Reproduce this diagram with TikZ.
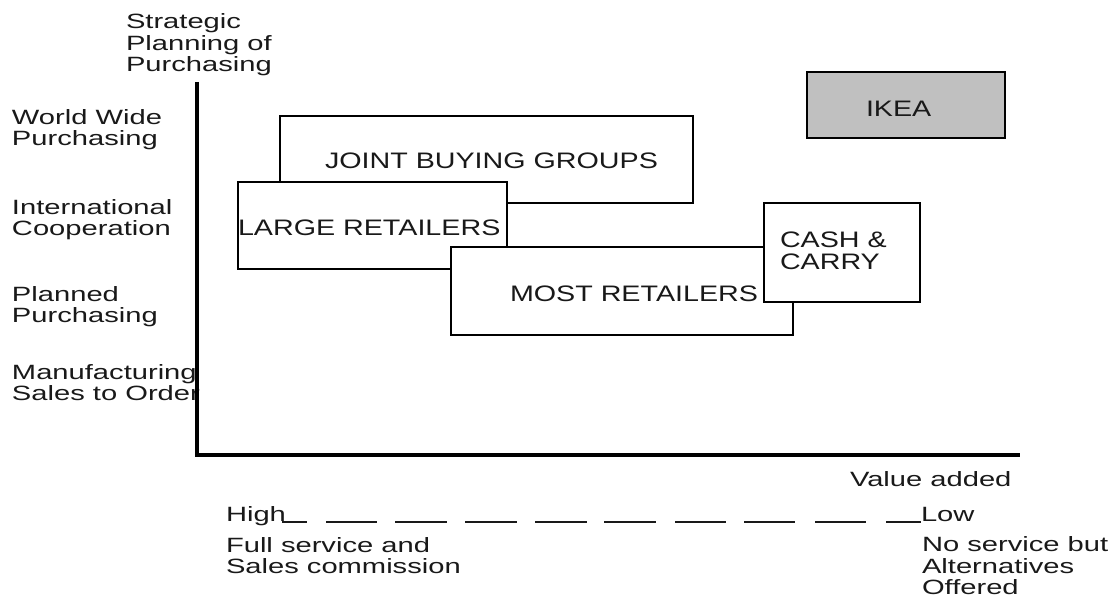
\documentclass[tikz,border=0pt]{standalone}
\usepackage{fontspec}
\setmainfont{Liberation Sans}
\newfontfamily\lblf[FakeStretch=1.41]{Liberation Sans}
\newfontfamily\boxf[FakeStretch=1.28]{Liberation Sans}
\definecolor{ikeagray}{RGB}{192,192,192}
\definecolor{txt}{RGB}{25,25,25}
\tikzset{
  lbl/.style={inner sep=0pt, outer sep=0pt, anchor=base west, align=left, text=txt,
    font=\lblf\fontsize{15.5}{16.3}\selectfont},
  boxtxt/.style={inner sep=0pt, outer sep=0pt, anchor=base west, align=left, text=txt,
    font=\boxf\fontsize{16.8}{16.5}\selectfont},
  panel/.style={draw=black, line width=1.1pt, fill=white, inner sep=0pt, outer sep=0pt, anchor=north west},
  axisline/.style={line width=2.6pt, line join=miter, line cap=butt},
  dashseg/.style={line width=1.3pt, draw=txt}
}
\begin{document}
\begin{tikzpicture}[x=0.75pt, y=-0.75pt]
\useasboundingbox (0,0) rectangle (1115,598);
% axis titles (anchor = baseline of the last line)
\node[lbl] (ytitle) at (126,72) {Strategic\\Planning of\\Purchasing};
\node[lbl] (l1) at (12,146) {World Wide\\Purchasing};
\node[lbl] (l2) at (12,236) {International\\Cooperation};
\node[lbl] (l3) at (12,323) {Planned\\Purchasing};
\node[lbl] (l4) at (12,401) {Manufacturing\\Sales to Order};
% axes
\coordinate (ytop) at (197,82);
\coordinate (origin) at (197,455);
\coordinate (xend) at (1020,455);
\draw[axisline] (ytop) -- (origin) -- (xend);
% boxes
\node[panel, minimum width={413*0.75pt}, minimum height={87*0.75pt}] (joint) at (280,116) {};
\node[boxtxt] (jointt) at (325,169) {JOINT BUYING GROUPS};
\node[panel, minimum width={269*0.75pt}, minimum height={87*0.75pt}] (large) at (238,182) {};
\node[boxtxt] (larget) at (238,236) {LARGE RETAILERS};
\node[panel, minimum width={342*0.75pt}, minimum height={88*0.75pt}] (most) at (451,247) {};
\node[boxtxt] (mostt) at (510,302) {MOST RETAILERS};
\node[panel, minimum width={156*0.75pt}, minimum height={99*0.75pt}] (cash) at (764,203) {};
\node[boxtxt] (casht) at (780,270) {CASH \&\\CARRY};
\node[panel, fill=ikeagray, minimum width={198*0.75pt}, minimum height={66*0.75pt}] (ikea) at (807,72) {};
\node[boxtxt] (ikeat) at (866,117) {IKEA};
% x-axis labels
\node[lbl] (xtitle) at (850,487) {Value added};
\node[lbl] (high) at (226,522) {High};
\node[lbl] (low) at (921,522) {Low};
\node[lbl] (fulls) at (226,574) {Full service and\\Sales commission};
\node[lbl] (nos) at (922,595) {No service but\\Alternatives\\Offered};
\foreach \a/\b in {282/307, 326/377, 395/447, 465/517, 535/587, 604/656, 675/726, 744/795, 815/866, 886/921}
  \draw[dashseg] (\a,522) -- (\b,522);
\end{tikzpicture}
\end{document}
